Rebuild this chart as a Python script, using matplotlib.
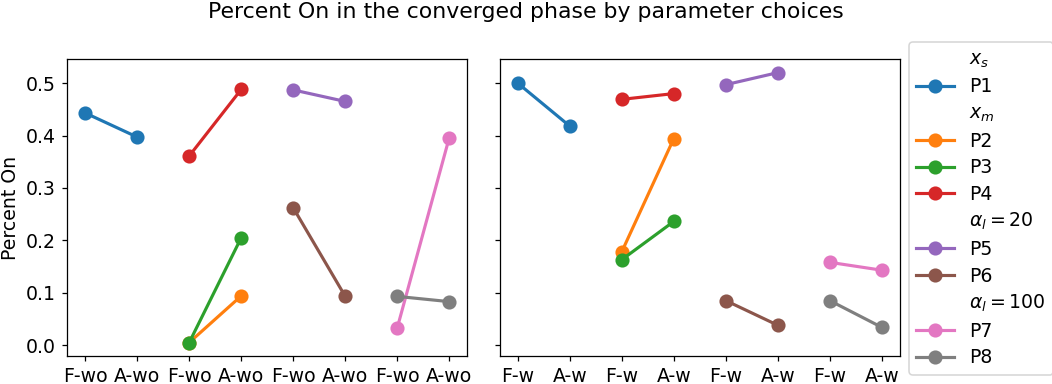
import matplotlib
matplotlib.use("Agg")
import matplotlib.pyplot as plt
from matplotlib.lines import Line2D

labels_left = ['F-wo', 'A-wo'] * 4
labels_right = ['F-w', 'A-w'] * 4

# which pair of x slots each parameter choice sits on
slots = {'P1': 0, 'P2': 1, 'P3': 1, 'P4': 1, 'P5': 2, 'P6': 2, 'P7': 3, 'P8': 3}

left_vals = {
    'P1': [0.443, 0.397],
    'P2': [0.005, 0.094],
    'P3': [0.005, 0.205],
    'P4': [0.361, 0.488],
    'P5': [0.487, 0.465],
    'P6': [0.262, 0.093],
    'P7': [0.033, 0.396],
    'P8': [0.093, 0.083],
}
right_vals = {
    'P1': [0.500, 0.418],
    'P2': [0.178, 0.394],
    'P3': [0.163, 0.236],
    'P4': [0.469, 0.480],
    'P5': [0.497, 0.520],
    'P6': [0.085, 0.038],
    'P7': [0.158, 0.143],
    'P8': [0.085, 0.034],
}
colors = {'P1': 'C0', 'P2': 'C1', 'P3': 'C2', 'P4': 'C3',
          'P5': 'C4', 'P6': 'C5', 'P7': 'C6', 'P8': 'C7'}
groups = [('$x_s$', ['P1']), ('$x_m$', ['P2', 'P3', 'P4']),
          (r'$\alpha_l = 20$', ['P5', 'P6']), (r'$\alpha_l = 100$', ['P7', 'P8'])]

plt.rcParams['font.size'] = 12
fig, (ax1, ax2) = plt.subplots(1, 2, sharey=True, figsize=(1052 / 113, 384 / 113), dpi=113)
fig.subplots_adjust(left=0.0637, right=0.8555, top=0.846, bottom=0.0729, wspace=0.08)

for ax, vals, labs in [(ax1, left_vals, labels_left), (ax2, right_vals, labels_right)]:
    for p, v in vals.items():
        x = [2 * slots[p], 2 * slots[p] + 1]
        ax.plot(x, v, '-o', color=colors[p], markersize=8, linewidth=2, label=p)
    ax.set_xticks(range(8))
    ax.set_xticklabels(labs)
    ax.set_yticks([0.0, 0.1, 0.2, 0.3, 0.4, 0.5])

ax1.set_ylabel('Percent On')
fig.suptitle('Percent On in the converged phase by parameter choices', fontsize=14, y=0.995)

handles, names = [], []
for title, ps in groups:
    handles.append(Line2D([], [], linestyle='none', marker=None))
    names.append(title)
    for p in ps:
        handles.append(Line2D([], [], color=colors[p], marker='o', markersize=8, linewidth=2))
        names.append(p)
fig.legend(handles, names, loc='upper left', bbox_to_anchor=(0.864, 0.891),
           fontsize=12, borderaxespad=0, labelspacing=0.4)

fig.savefig('out.png', dpi=113)
